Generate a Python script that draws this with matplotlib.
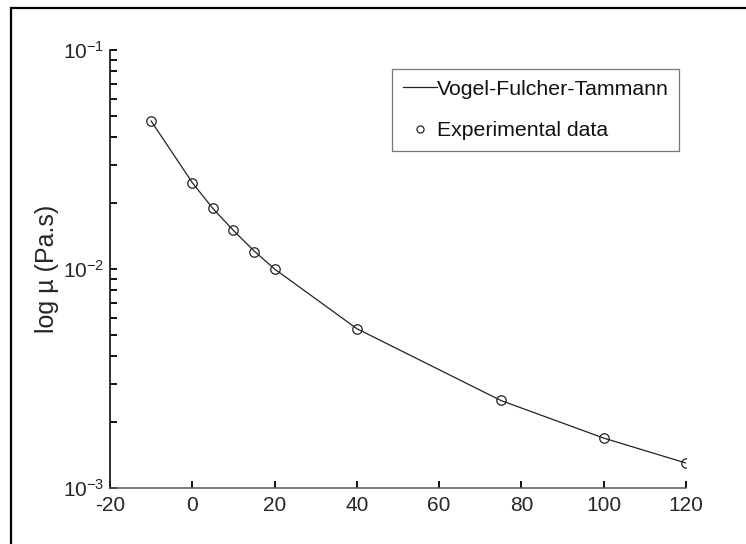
import numpy as np
import matplotlib

matplotlib.use("Agg")
import matplotlib.pyplot as plt
from matplotlib.patches import Rectangle

# ---------------------------------------------------------------------------
# Data
# ---------------------------------------------------------------------------
temp_c = [-10, 0, 5, 10, 15, 20, 40, 75, 100, 120]
mu_exp = [0.0474, 0.0248, 0.0189, 0.0150, 0.0120, 0.0100, 0.00534, 0.00251, 0.00169, 0.00130]
mu_vft = [0.0474, 0.0248, 0.0189, 0.0150, 0.0121, 0.0100, 0.00534, 0.00251, 0.00169, 0.00130]

X_LIM = (-20, 120)
X_TICKS = [-20, 0, 20, 40, 60, 80, 100, 120]
Y_LIM = (1e-3, 1e-1)

plt.rcParams["font.family"] = ["Liberation Sans", "DejaVu Sans"]
plt.rcParams["mathtext.fontset"] = "custom"
plt.rcParams["mathtext.rm"] = "Liberation Sans"
plt.rcParams["mathtext.it"] = "Liberation Sans:italic"


def main() -> None:
    fig = plt.figure(figsize=(7.46, 5.44), dpi=100)
    ax = fig.add_axes([110 / 746, 1 - 488 / 544, 576 / 746, 438 / 544])

    ax.semilogy(temp_c, mu_vft, color="#222222", linewidth=0.9,
                label="Vogel-Fulcher-Tammann")
    ax.semilogy(temp_c, mu_exp, linestyle="none", marker="o", markersize=6.8,
                markerfacecolor="none", markeredgecolor="#222222",
                markeredgewidth=0.9, label="Experimental data")

    ax.set_xlim(*X_LIM)
    ax.set_ylim(*Y_LIM)
    ax.set_xticks(X_TICKS)
    ax.set_xticklabels([str(t) for t in X_TICKS])

    for spine in ("top", "right"):
        ax.spines[spine].set_visible(False)
    ax.spines["left"].set_color("#222222")
    ax.spines["left"].set_linewidth(1.3)
    ax.spines["bottom"].set_color("#555555")
    ax.spines["bottom"].set_linewidth(1.1)

    ax.tick_params(axis="both", which="both", direction="in", colors="#111111",
                   labelcolor="#262626", labelsize=15, width=1.4)
    ax.tick_params(axis="x", which="major", length=5, pad=6)
    ax.tick_params(axis="y", which="major", length=5, pad=4)
    ax.tick_params(axis="y", which="minor", length=5)
    ax.tick_params(axis="x", which="minor", bottom=False)

    ax.set_ylabel("log µ (Pa.s)", fontsize=18, color="#262626")
    ax.yaxis.set_label_coords(-0.088, 0.5)

    leg = ax.legend(loc="upper left", bbox_to_anchor=(392 / 746, 1 - 69 / 544),
                    bbox_transform=fig.transFigure, borderaxespad=0,
                    fontsize=15.3, frameon=True, fancybox=False,
                    handlelength=1.6, handletextpad=0.0, borderpad=0.5,
                    labelspacing=1.05, markerscale=0.75)
    leg.get_frame().set_edgecolor("#555555")
    leg.get_frame().set_linewidth(0.9)
    for txt in leg.get_texts():
        txt.set_color("#111111")

    # figure frame (only left and top edges show in the crop)
    fig.add_artist(Rectangle((11 / 746, -0.1), 1.2, 1 - 8 / 544 + 0.1,
                             transform=fig.transFigure, fill=False,
                             edgecolor="black", linewidth=1.6))

    fig.savefig("out.png", dpi=100)
    plt.close(fig)


if __name__ == "__main__":
    main()
